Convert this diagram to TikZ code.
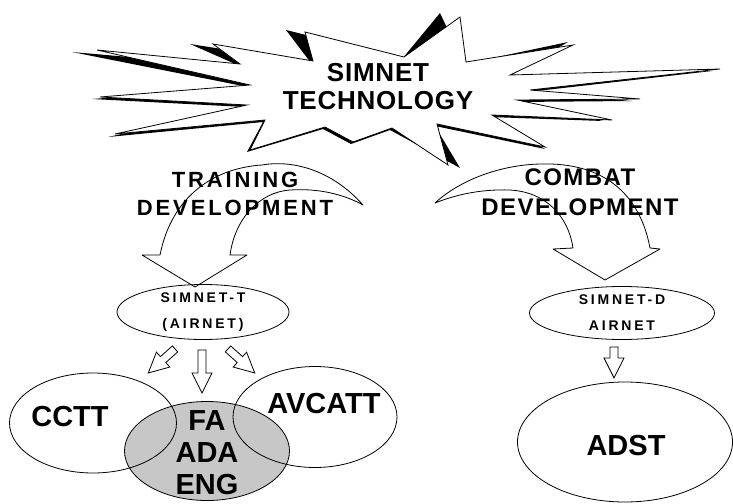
\documentclass[tikz,border=0pt]{standalone}
\usepackage{fontspec}
\setmainfont{Liberation Sans}
\usetikzlibrary{shapes.geometric, calc}

\tikzset{
  blob/.style={draw, ellipse, inner sep=0pt},
  bigword/.style={font=\fontsize{29}{32}\selectfont\bfseries, align=center},
  tinyword/.style={font=\fontsize{14}{26}\selectfont\bfseries\addfontfeatures{LetterSpace=20}, align=center},
  pics/hollowdown/.style={code={
    \draw (-4,0) -- (4,0) -- (4,#1) -- (10,#1) -- (0,#1+20) -- (-10,#1) -- (-4,#1) -- cycle;
  }},
}

\begin{document}
\begin{tikzpicture}[x=1pt, y=-1pt, line width=0.8pt]
\useasboundingbox (0,0) rectangle (733,503);
% burst, black copy first then the white one over it
\fill (72,52) -- (242,67) -- (190,44) -- (311,63) -- (286,30) -- (402,59) -- (440,13) -- (464,64)
  -- (568,42) -- (508,77) -- (712,71) -- (528,92) -- (632,101) -- (515,102) -- (603,121) -- (490,117)
  -- (545,149) -- (435,126) -- (460,168) -- (390,130) -- (351,144) -- (323,129) -- (247,152) -- (263,122)
  -- (108,137) -- (245,107) -- (92,99) -- (248,87) -- cycle;
\draw[fill=white] (97,50) -- (240,64) -- (213,44) -- (313,61) -- (305,32) -- (404,57) -- (460,17) -- (466,62)
  -- (573,45) -- (510,75) -- (720,69) -- (530,90) -- (640,99) -- (517,100) -- (612,120) -- (492,115)
  -- (545,147) -- (437,124) -- (448,165) -- (392,128) -- (353,142) -- (325,127) -- (250,150) -- (265,120)
  -- (115,134) -- (247,105) -- (100,97) -- (250,85) -- cycle;
\node[align=center, font=\fontsize{26}{28}\selectfont\bfseries\addfontfeatures{LetterSpace=3}] (tech) at (378,87) {SIMNET\\TECHNOLOGY};

% the two bent arrows
\draw[line join=round] (363,205) .. controls (330,168) and (290,160) .. (262,165)
  .. controls (215,168) and (172,195) .. (160,255) -- (142,255) -- (195,287) -- (247,255) -- (230,255)
  .. controls (235,218) and (260,192) .. (290,190) .. controls (320,188) and (345,195) .. (363,205) -- cycle;
\draw[line join=round] (435,203) .. controls (460,180) and (500,165) .. (540,164)
  .. controls (605,162) and (640,195) .. (650,248) -- (660,249) -- (605,280) -- (553,249) -- (573,248)
  .. controls (568,215) and (545,192) .. (510,190) .. controls (480,189) and (455,195) .. (435,203) -- cycle;
\node[align=center, font=\fontsize{22}{28}\selectfont\bfseries\addfontfeatures{LetterSpace=13}] (train) at (235,194) {TRAINING\\DEVELOPMENT};
\node[align=center, font=\fontsize{24}{30}\selectfont\bfseries\addfontfeatures{LetterSpace=6}] (combat) at (580,192) {COMBAT\\DEVELOPMENT};

\node[blob, minimum width=172pt, minimum height=55pt, tinyword] (simT) at (203,312) {SIMNET-T\\(AIRNET)};
\node[blob, minimum width=185pt, minimum height=53pt, tinyword] (simD) at (622,313) {SIMNET-D\\AIRNET};

\pic[rotate=-48] at ($(simT.south)+(-28,9)$) {hollowdown=16};
\pic at ($(simT.south)+(-1,10)$) {hollowdown=23};
\pic[rotate=48] at ($(simT.south)+(25,9)$) {hollowdown=16};
\pic at ($(simD.south)+(-8,7)$) {hollowdown=11};

\node[blob, fill=black!22, minimum width=165pt, minimum height=99pt] (fa) at (207,451) {};
\node[blob, minimum width=167pt, minimum height=100pt] (cctt) at (93,423) {};
\node[blob, minimum width=164pt, minimum height=101pt] (avcatt) at (315,417) {};
\node[blob, minimum width=215pt, minimum height=120pt] (adst) at (625,442) {};
\node[bigword] (ccttText) at (70,417) {CCTT};
\node[bigword] (faText) at (207,453) {FA\\ADA\\ENG};
\node[bigword] (avcattText) at (324,404) {AVCATT};
\node[bigword] (adstText) at (626,446) {ADST};
\end{tikzpicture}
\end{document}
